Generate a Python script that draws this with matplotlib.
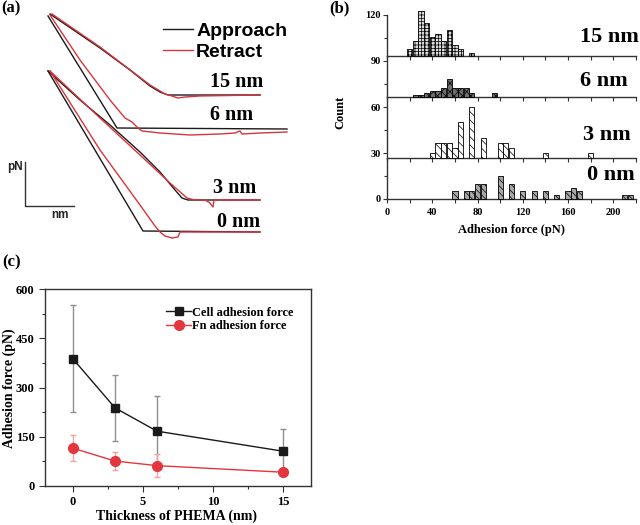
import numpy as np
import matplotlib
matplotlib.use('Agg')
import matplotlib.pyplot as plt
from matplotlib.lines import Line2D
from matplotlib.ticker import MultipleLocator

W, H = 640, 525
SERIF = 'Liberation Serif'
SANS = 'Liberation Sans'
plt.rcParams['hatch.linewidth'] = 0.5

BLACK = '#1a1a1a'
RED_A = '#d8343b'
RED_C = '#e3363d'

# ---------------- (a) force curves (arbitrary units: distance, deflection) ----
app15_x = [50, 100, 130, 150, 160, 168, 260]
app15_y = [236, 202, 180, 164, 158, 155, 155]
ret15_x = [52, 100, 150, 165, 172, 178, 185, 200, 260]
ret15_y = [236, 203, 165, 156, 154, 152, 153, 154, 155]

app6_x = [48, 117, 287]
app6_y = [234, 122, 121]
ret6_x = [50, 80, 110, 125, 132, 138, 142, 160, 190, 220, 235, 240, 242, 260, 287]
ret6_y = [235, 190, 150, 132, 128, 122, 119, 117, 115, 116, 117, 119, 116, 117, 118]

app3_x = [48, 80, 110, 140, 160, 175, 182, 188, 260]
app3_y = [179, 150, 125, 98, 78, 60, 52, 50, 50]
ret3_x = [50, 100, 140, 170, 187, 195, 205, 210, 213, 214, 260]
ret3_y = [179, 132, 95, 67, 52, 50, 50, 47, 43, 50, 50]

app0_x = [48, 143, 260]
app0_y = [179, 19, 18]
ret0_x = [50, 100, 140, 155, 160, 165, 172, 178, 180, 260]
ret0_y = [179, 100, 45, 24, 18, 14, 12, 13, 18, 18]

curve_labels = ['15 nm', '6 nm', '3 nm', '0 nm']

# ---------------- (b) histograms ----------------
h15_x = [20, 25, 30, 35, 40, 45, 50, 55, 60, 65, 75]
h15_c = [4.8, 9.8, 29.4, 21.8, 12.4, 14.6, 9.8, 17.2, 7.4, 4.8, 2.2]
h6_x = [25, 30, 35, 40, 45, 50, 55, 60, 65, 70, 75, 95]
h6_c = [1, 1, 2.6, 4, 4, 5.6, 12, 5.6, 5.6, 5.6, 2.6, 2.6]
h3_x = [40, 45, 50, 55, 60, 65, 75, 85, 100, 105, 110, 140, 180]
h3_c = [3.5, 9.8, 9.8, 9.8, 6.5, 23.5, 33.3, 13.1, 9.8, 9.8, 6.5, 3.5, 3.5]
h0_x = [60, 70, 75, 80, 85, 100, 110, 120, 130, 140, 150, 160, 165, 170, 210, 215]
h0_c = [5, 5, 5, 10, 10, 15, 10, 5, 5, 5, 2.5, 5, 7.5, 5, 2.5, 2.5]
hist_baselines = [0, 26.5, 66.5, 93.3, 120]   # bottom to top panel limits

# ---------------- (c) adhesion force vs thickness ----------------
thick = [0, 3, 6, 15]
cell_mean = [387, 238, 167, 106]
cell_err = [163, 101, 107, 67]
fn_mean = [115, 76, 62, 42]
fn_err = [40, 27, 35, 8]


def fx(px):
    return px / W


def fy(py):
    return 1 - py / H


fig = plt.figure(figsize=(6.4, 5.25), dpi=100)

# ================= panel (a) =================
ax_a = fig.add_axes([0, fy(250), 300 / W, 250 / H])
ax_a.set_xlim(0, 300)
ax_a.set_ylim(0, 250)
ax_a.axis('off')
lw = 1.0
la, = ax_a.plot(app15_x, app15_y, color=BLACK, lw=lw, label='Approach')
lr, = ax_a.plot(ret15_x, ret15_y, color=RED_A, lw=lw, label='Retract')
for xa, ya, xr, yr in [(app6_x, app6_y, ret6_x, ret6_y),
                       (app3_x, app3_y, ret3_x, ret3_y),
                       (app0_x, app0_y, ret0_x, ret0_y)]:
    ax_a.plot(xa, ya, color=BLACK, lw=lw)
    ax_a.plot(xr, yr, color=RED_A, lw=lw)

# scale bar
ax_a.plot([25, 25, 74], [88, 44, 44], color='#333333', lw=1.0)
ax_a.text(23, 83, 'pN', ha='right', va='center', fontsize=8.5,
          fontweight='bold', family=SANS, color='#222222')
ax_a.text(60, 35, 'nm', ha='center', va='center', fontsize=8.5,
          fontweight='bold', family=SANS, color='#222222')

for lab, (x0, yc) in zip(curve_labels, [(210, 168), (210, 135), (213, 62), (217, 28)]):
    ax_a.text(x0, yc, lab, ha='left', va='center', fontsize=14.5,
              fontweight='bold', family=SERIF)

ax_a.legend(handles=[la, lr], loc='upper left',
            bbox_to_anchor=(fx(163), fy(22)), bbox_transform=fig.transFigure,
            frameon=False, borderpad=0, borderaxespad=0, handlelength=1.55,
            handletextpad=0.15, labelspacing=0.18,
            prop={'family': SANS, 'weight': 'bold', 'size': 14})

# ================= panel (b) =================
px_per = (199 - 15) / 120.0
y0px = 199
left_b, right_b = 387, 636
hist_data = [(h0_x, h0_c, '#a8a8a8', '\\\\\\\\\\'),
             (h3_x, h3_c, 'white', '\\\\\\\\'),
             (h6_x, h6_c, '#6e6e6e', 'xxxx'),
             (h15_x, h15_c, '#dcdcdc', '+++++')]
hist_axes = []
for i, (hx, hc, fc, hatch) in enumerate(hist_data):
    lo, hi = hist_baselines[i], hist_baselines[i + 1]
    bot_px = y0px - lo * px_per
    top_px = y0px - hi * px_per
    ax = fig.add_axes([fx(left_b), fy(bot_px), (right_b - left_b) / W,
                       (bot_px - top_px) / H])
    ax.bar(hx, hc, width=4.6, bottom=lo, color=fc, edgecolor='black',
           linewidth=0.6, hatch=hatch, clip_on=False, zorder=3)
    ax.set_xlim(0, 220)
    ax.set_ylim(lo, hi)
    ax.patch.set_alpha(0)
    for s in ['top', 'right']:
        ax.spines[s].set_visible(False)
    for s in ['left', 'bottom']:
        ax.spines[s].set_color('#333333')
        ax.spines[s].set_linewidth(1.0)
    ax.xaxis.set_major_locator(MultipleLocator(40))
    ax.xaxis.set_minor_locator(MultipleLocator(20))
    ax.yaxis.set_major_locator(MultipleLocator(30))
    ax.yaxis.set_minor_locator(MultipleLocator(15))
    ax.tick_params(which='both', direction='out', color='#333333', width=0.8)
    ax.tick_params(which='major', length=3)
    ax.tick_params(which='minor', length=3)
    ax.tick_params(axis='y', which='minor', length=2)
    ax.tick_params(axis='y', pad=1.5)
    if i > 0:
        ax.tick_params(axis='x', labelbottom=False)
    for t in ax.get_xticklabels() + ax.get_yticklabels():
        t.set_fontfamily(SERIF)
        t.set_fontweight('bold')
        t.set_fontsize(7.5)
    hist_axes.append(ax)

for lab, (x0, yc) in zip(['15 nm', '6 nm', '3 nm', '0 nm'],
                         [(580, 37.5), (580, 81.5), (583, 135), (587, 175.5)]):
    fig.text(fx(x0), fy(yc), lab, ha='left', va='center', fontsize=16,
             fontweight='bold', family=SERIF)
fig.text(fx(340), fy(112), 'Count', rotation=90, ha='center', va='center',
         fontsize=9, fontweight='bold', family=SERIF)
fig.text(fx(511), fy(230), 'Adhesion force (pN)', ha='center', va='center',
         fontsize=9, fontweight='bold', family=SERIF)

# ================= panel (c) =================
ax_c = fig.add_axes([fx(45), fy(486), (311 - 45) / W, (486 - 289) / H])
eb1 = ax_c.errorbar(thick, cell_mean, yerr=cell_err, color=BLACK, lw=1.0,
                    marker='s', ms=6, ecolor='#8f8f8f', elinewidth=1.0,
                    capsize=2.5, capthick=1.0, zorder=3)
eb2 = ax_c.errorbar(thick, fn_mean, yerr=fn_err, color=RED_C, lw=1.0,
                    marker='o', ms=7, ecolor='#f0a3a3', elinewidth=1.0,
                    capsize=2.5, capthick=1.0, zorder=3)
ax_c.set_xlim(-2, 17)
ax_c.set_ylim(0, 600)
ax_c.xaxis.set_major_locator(MultipleLocator(5))
ax_c.xaxis.set_minor_locator(MultipleLocator(2.5))
ax_c.yaxis.set_major_locator(MultipleLocator(150))
ax_c.yaxis.set_minor_locator(MultipleLocator(75))
ax_c.tick_params(which='both', direction='out', color='#333333', width=0.8,
                 top=False, right=False)
ax_c.tick_params(which='major', length=4)
ax_c.tick_params(which='minor', length=2.5)
for s in ax_c.spines.values():
    s.set_color('#333333')
    s.set_linewidth(1.0)
for t in ax_c.get_xticklabels() + ax_c.get_yticklabels():
    t.set_fontfamily(SERIF)
    t.set_fontweight('bold')
    t.set_fontsize(9)
ax_c.legend(handles=[eb1.lines[0], eb2.lines[0]],
            labels=['Cell adhesion force', 'Fn adhesion force'],
            loc='upper left', bbox_to_anchor=(fx(166), fy(306.5)),
            bbox_transform=fig.transFigure, frameon=False, borderpad=0,
            borderaxespad=0, handlelength=2.0, handletextpad=0.1,
            labelspacing=0.12, numpoints=1,
            prop={'family': SERIF, 'weight': 'bold', 'size': 9})
fig.text(fx(176), fy(516), 'Thickness of PHEMA (nm)', ha='center', va='center',
         fontsize=10, fontweight='bold', family=SERIF)
fig.text(fx(9), fy(388), 'Adhesion force (pN)', rotation=90, ha='center',
         va='center', fontsize=10, fontweight='bold', family=SERIF)

# panel letters
for lab, (x0, y0) in [('(a)', (1, 0)), ('(b)', (329, 0)), ('(c)', (2, 254))]:
    fig.text(fx(x0), fy(y0), lab, ha='left', va='top', fontsize=12,
             fontweight='bold', family=SERIF)

fig.savefig('out.png', dpi=100)
